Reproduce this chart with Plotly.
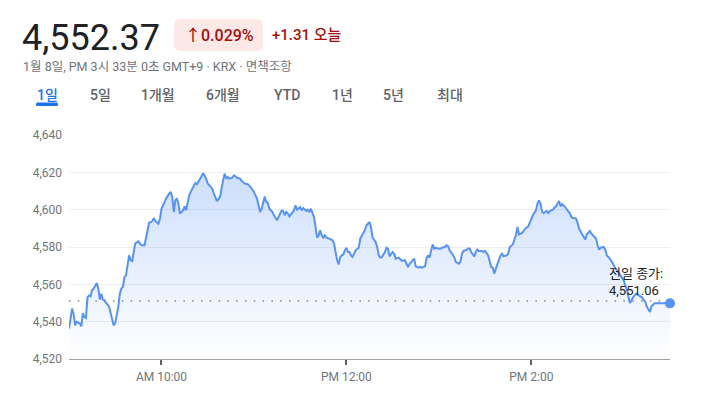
import datetime as dt
import plotly.graph_objects as go

# ---------------- data ----------------
minutes = [0, 2, 3, 4, 5, 7, 8, 9, 10, 11, 12, 13, 14, 15, 16, 18, 19, 20, 21, 22, 23, 24, 26, 27, 28, 29, 30,
           32, 33, 34, 35, 36, 37, 38, 39, 40, 41, 42, 43, 45, 46, 47, 49, 50, 51, 52, 54, 55, 56, 58, 59, 60,
           62, 63, 65, 66, 67, 68, 69, 70, 71, 72, 74, 75, 76, 77, 78, 80, 81, 82, 83, 84, 86, 87, 89, 90, 91,
           93, 94, 95, 96, 98, 99, 100, 101, 102, 103, 104, 106, 107, 108, 109, 111, 112, 114, 115, 116, 118,
           119, 120, 122, 123, 124, 125, 126, 127, 128, 129, 130, 132, 133, 134, 135, 137, 138, 139, 140, 141,
           142, 143, 145, 146, 147, 148, 150, 151, 152, 154, 155, 156, 157, 159, 160, 161, 162, 163, 164, 165,
           166, 167, 169, 170, 171, 172, 173, 174, 175, 176, 177, 178, 179, 180, 181, 182, 183, 184, 186, 187,
           188, 189, 191, 192, 193, 195, 196, 197, 199, 200, 201, 202, 203, 205, 206, 207, 208, 210, 211, 212,
           214, 215, 216, 218, 219, 220, 221, 223, 224, 225, 227, 228, 229, 231, 232, 233, 234, 235, 236, 237,
           238, 240, 241, 242, 244, 245, 246, 247, 249, 250, 251, 253, 254, 255, 256, 258, 259, 260, 261, 263,
           264, 265, 266, 268, 269, 270, 272, 273, 274, 275, 276, 277, 279, 280, 281, 282, 284, 285, 286, 288,
           289, 290, 291, 292, 294, 295, 296, 298, 299, 300, 301, 303, 304, 305, 306, 307, 308, 310, 311, 312,
           314, 315, 316, 317, 318, 319, 320, 322, 323, 324, 325, 326, 327, 329, 330, 331, 333, 334, 335, 336,
           338, 339, 340, 342, 343, 344, 345, 347, 348, 349, 351, 352, 353, 355, 357, 360, 362, 364, 366, 368,
           370, 372, 374, 375, 377, 378, 380, 390]
prices = [4536.3, 4547, 4544, 4538, 4540, 4539, 4537.5, 4544.6, 4542.5, 4542, 4553, 4554, 4553.6, 4556.8,
          4557.7, 4560.7, 4557.7, 4551.8, 4555, 4551.8, 4551.4, 4550, 4548, 4544.3, 4540, 4538, 4539.3,
          4548, 4555, 4557.7, 4558.6, 4564, 4564.8, 4571, 4575.5, 4572.9, 4572.5, 4577.3, 4582, 4583, 4581.8,
          4580.9, 4580.9, 4585.4, 4589.8, 4593, 4593.75, 4595.5, 4594, 4592.5, 4595, 4600.5,
          4604, 4606, 4608.6, 4609.5, 4606.8, 4598.75, 4605, 4606, 4603.2, 4597.9, 4599.6, 4601.8, 4599.6,
          4603.2, 4607.7, 4611.25, 4613, 4614.3, 4613.6, 4614.8, 4617.9, 4619.6, 4616.6, 4614, 4613,
          4611.25, 4608.6, 4606, 4604.6, 4606.8, 4612, 4615.7, 4619.3, 4616.6, 4617.5, 4616.6, 4617.1,
          4618.4, 4617.9, 4617.1, 4616.6, 4615.4, 4614, 4613.6, 4613.6, 4612,
          4610.7, 4609.5, 4606, 4601.4, 4598.75, 4600.5, 4604, 4607, 4604, 4603.8, 4600.5, 4598.75, 4597,
          4595.2, 4594.3, 4597.9, 4599.6, 4599.3, 4597, 4598.75,
          4597.9, 4596.4, 4598.75, 4599.6, 4602.3, 4600, 4601.4, 4599.6, 4600.9, 4599.3, 4600, 4598.75,
          4600.5, 4596, 4590.7, 4585, 4586.25, 4589, 4586.25, 4585,
          4586.25, 4585, 4584.5, 4584, 4583.6, 4581.8, 4577.3, 4572.9, 4570.7, 4574.6, 4575.5, 4575.9,
          4578.2, 4579.6, 4577.3, 4577.3, 4575.5, 4574.6, 4578.2, 4579.1,
          4579.6, 4584.5, 4587.5, 4589, 4591.6, 4593.4, 4590.5, 4585, 4582.7, 4580, 4575.5, 4574.3, 4574.6,
          4577.3, 4579.6, 4579.1, 4575, 4577.3, 4576.4, 4573.75,
          4574.3, 4573.2, 4572.5, 4572.9, 4571.4, 4569.3, 4571, 4572.9, 4573.75, 4569.6, 4568.9, 4569.3,
          4568.9, 4569.6, 4573.75, 4575.5, 4574.3, 4578.2, 4581.4, 4579.1,
          4579.6, 4579.1, 4579.1, 4579.6, 4580, 4580.9, 4580.4, 4578.2, 4575.5, 4574.6, 4572, 4571, 4572,
          4576.4, 4577.9, 4578.4, 4579.3, 4579.1, 4577.3, 4575,
          4577.3, 4578.6, 4577.9, 4577.9, 4577.3, 4577.9, 4575.5, 4572, 4569.3, 4568.9, 4565.7, 4568.4,
          4573.75, 4575.5, 4576.4, 4575, 4575.5, 4576.4, 4580, 4581.4,
          4583.9, 4586.25, 4590.7, 4586.8, 4587.5, 4588.6, 4589.8, 4591, 4593.4, 4594.6, 4597, 4599.6,
          4603.2, 4605, 4603.2, 4598.75, 4598.2, 4599.3, 4598.2, 4599.3,
          4600, 4601, 4601.8, 4603.2, 4604.6, 4601.8, 4602.9, 4601.4, 4600, 4599, 4598.2, 4596, 4595.7,
          4595.2, 4592.9, 4589.8, 4586.8, 4585, 4584, 4586.8,
          4588.6, 4587.1, 4586.25, 4584.5, 4580.9, 4578.6, 4579.6, 4580, 4578.6, 4575.5, 4573.75, 4572,
          4571, 4568, 4566, 4562, 4557, 4550, 4553, 4555,
          4554, 4552.9, 4550.5, 4547.9, 4545.2, 4548.2, 4549.8, 4549.8]

prev_close = 4551.06
y_ticks = [4520, 4540, 4560, 4580, 4600, 4620, 4640]
x_tick_times = ["10:00", "12:00", "14:00"]
x_tick_labels = ["AM 10:00", "PM 12:00", "PM 2:00"]
tabs = ["1일", "5일", "1개월", "6개월", "YTD", "1년", "5년", "최대"]

price_text = "4,552.37"
pct_text = "↑0.029%"
chg_text = "+1.31 오늘"
sub_text = "1월 8일, PM 3시 33분 0초 GMT+9 · KRX · 면책조항"
close_label = "전일 종가:<br>4,551.06"

# ---------------- build ----------------
day = dt.datetime(2026, 1, 8, 9, 0)
times = [day + dt.timedelta(minutes=m) for m in minutes]
x_start = day
x_end = day + dt.timedelta(minutes=390)
tickvals = [dt.datetime.combine(day.date(), dt.time.fromisoformat(t)) for t in x_tick_times]

FONT = "Roboto, 'Noto Sans CJK KR', sans-serif"
BLUE = "#5793f3"

# page offset (browser body margin) and plot-area geometry in screen pixels
OFF = 8
L, R, T, B = 69, 670, 135, 359
W, H = R - L, B - T
FIG_W, FIG_H = 705 - OFF, 397 - OFF


def P(x, y):
    return (x - L) / W, (B - y) / H


def rrect(x0, y0, x1, y1, r):
    rx, ry = r / W, r / H
    a0, b1 = P(x0, y0)
    a1, b0 = P(x1, y1)
    return (f"M {a0+rx},{b1} L {a1-rx},{b1} Q {a1},{b1} {a1},{b1-ry} "
            f"L {a1},{b0+ry} Q {a1},{b0} {a1-rx},{b0} L {a0+rx},{b0} "
            f"Q {a0},{b0} {a0},{b0+ry} L {a0},{b1-ry} Q {a0},{b1} {a0+rx},{b1} Z")


fig = go.Figure()
fig.add_trace(go.Scatter(
    x=times, y=prices, mode="lines",
    line=dict(color=BLUE, width=2),
    fill="tozeroy",
    fillgradient=dict(type="vertical", start=4520, stop=4625,
                      colorscale=[[0, "rgba(66,133,244,0.0)"], [1, "rgba(66,133,244,0.28)"]]),
    hoverinfo="skip", showlegend=False,
))
fig.add_trace(go.Scatter(
    x=[times[-1]], y=[prices[-1]], mode="markers",
    marker=dict(color=BLUE, size=10), cliponaxis=False,
    hoverinfo="skip", showlegend=False,
))

fig.add_shape(type="line", xref="x", yref="y", x0=x_start, x1=times[-1], y0=prev_close, y1=prev_close,
              line=dict(color="#80868b", width=1.3, dash="1.5px,7.3px"), layer="below")

# badge
fig.add_shape(type="path", xref="paper", yref="paper", path=rrect(174, 19, 263, 51, 7),
              fillcolor="#fce8e6", line=dict(width=0))
# tab underline
fig.add_shape(type="path", xref="paper", yref="paper", path=rrect(36, 102.5, 58, 106, 1.5),
              fillcolor="#1a73e8", line=dict(width=0))

ann = []


def txt(x, y, s, size, color, xanchor="left", weight=None):
    px_, py_ = P(x, y)
    ann.append(dict(x=px_, y=py_, xref="paper", yref="paper", text=s, showarrow=False,
                    xanchor=xanchor, yanchor="middle",
                    font=dict(family=FONT, size=size, color=color,
                              weight=weight if weight else "normal")))


txt(20, 38, price_text, 36, "#202124")
txt(183, 35, pct_text, 16, "#a50e0e", weight=500)
txt(270, 35, chg_text, 15, "#a50e0e", weight=500)
txt(21, 66, sub_text, 12.5, "#70757a")
tab_x = [47, 100, 158, 223, 287, 342, 393, 450]
for i, (t, xc) in enumerate(zip(tabs, tab_x)):
    txt(xc, 95, t, 14, "#1a73e8" if i == 0 else "#5f6368", xanchor="center", weight=500)

ann.append(dict(x=times[-1], y=prev_close, xref="x", yref="y", text=close_label,
                showarrow=False, xanchor="left", yanchor="bottom", xshift=-63, yshift=1, align="left",
                font=dict(family=FONT, size=13, color="#202124")))

fig.update_layout(
    width=FIG_W, height=FIG_H,
    margin=dict(l=L - OFF, r=FIG_W - (R - OFF), t=T - OFF, b=FIG_H - (B - OFF)),
    paper_bgcolor="white", plot_bgcolor="white",
    font=dict(family=FONT, color="#70757a", size=12),
    annotations=ann,
    xaxis=dict(range=[x_start, x_end], tickvals=tickvals, ticktext=x_tick_labels,
               showgrid=False, showline=True, linecolor="#9aa0a6", linewidth=1,
               ticks="outside", ticklen=5, tickcolor="#5f6368", tickwidth=2,
               tickfont=dict(size=12, color="#70757a"), ticklabelstandoff=2,
               zeroline=False, fixedrange=True),
    yaxis=dict(range=[4520, 4640], tickvals=y_ticks, tickformat=",", showgrid=True,
               gridcolor="#eeeff1", gridwidth=1, zeroline=False, showline=False,
               ticks="", tickfont=dict(size=12, color="#70757a"), ticklabelstandoff=6,
               fixedrange=True),
)

fig.write_html("out.html")
